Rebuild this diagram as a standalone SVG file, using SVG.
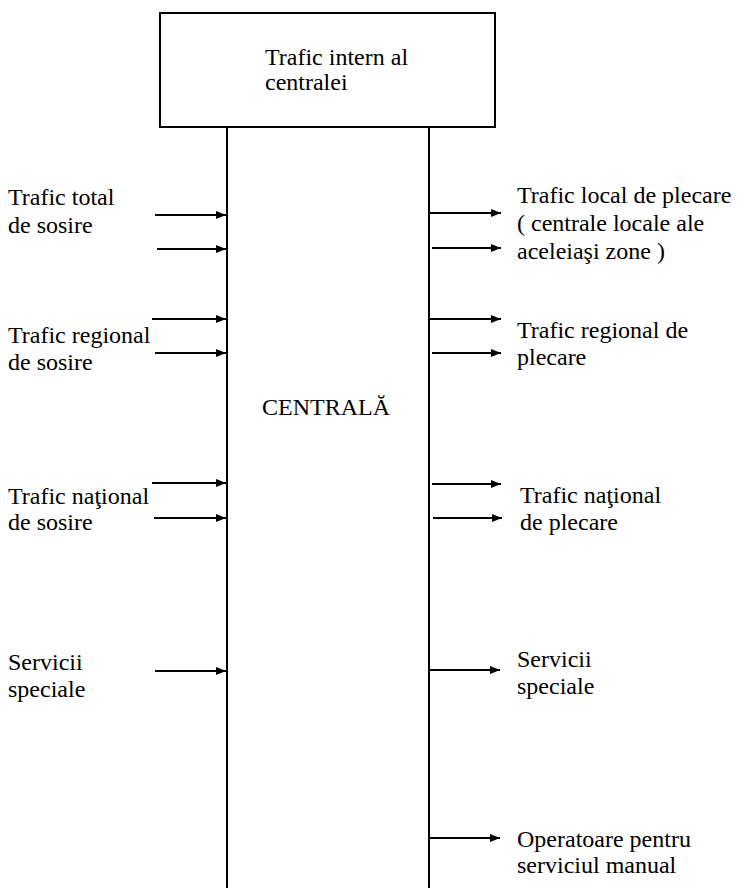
<svg xmlns="http://www.w3.org/2000/svg" width="740" height="888" viewBox="0 0 740 888">
<defs>
<marker id="ah" viewBox="0 0 10 10" refX="10" refY="5" markerWidth="10" markerHeight="10" markerUnits="userSpaceOnUse" orient="auto">
<path d="M0,1 L10,5 L0,9 Z" fill="#000"/>
</marker>
<style>
.t{font-family:'Liberation Serif','DejaVu Serif',serif;font-size:24px;fill:#000}
.box{fill:#fff;stroke:#000;stroke-width:2}
.ln{fill:none;stroke:#000;stroke-width:2}
.arr{fill:none;stroke:#000;stroke-width:2;marker-end:url(#ah)}
</style>
</defs>
<rect width="740" height="888" fill="#fff"/>
<g id="central" class="t" font-family="Liberation Serif, serif">
<path class="ln" d="M227,127 V888 M429,127 V888"/>
<text x="262" y="415">CENTRALĂ</text>
</g>
<g id="intern" class="t" font-family="Liberation Serif, serif">
<rect class="box" x="160" y="13" width="335" height="114"/>
<text x="265" y="65">Trafic intern al</text>
<text x="265" y="90">centralei</text>
</g>
<g id="connectors">
<line class="arr" x1="155" y1="215" x2="226" y2="215"/>
<line class="arr" x1="157" y1="249" x2="226" y2="249"/>
<line class="arr" x1="152" y1="319" x2="226" y2="319"/>
<line class="arr" x1="155" y1="353" x2="226" y2="353"/>
<line class="arr" x1="152" y1="483" x2="226" y2="483"/>
<line class="arr" x1="154" y1="518" x2="226" y2="518"/>
<line class="arr" x1="155" y1="671" x2="226" y2="671"/>
<line class="arr" x1="430" y1="213" x2="501" y2="213"/>
<line class="arr" x1="432" y1="248" x2="501" y2="248"/>
<line class="arr" x1="430" y1="319" x2="501" y2="319"/>
<line class="arr" x1="432" y1="353" x2="501" y2="353"/>
<line class="arr" x1="432" y1="484" x2="501" y2="484"/>
<line class="arr" x1="433" y1="518" x2="502" y2="518"/>
<line class="arr" x1="430" y1="670" x2="500" y2="670"/>
<line class="arr" x1="430" y1="838" x2="500" y2="838"/>
</g>
<g id="in-total" class="t" font-family="Liberation Serif, serif">
<text x="8" y="205">Trafic total</text>
<text x="8" y="233">de sosire</text>
</g>
<g id="in-regional" class="t" font-family="Liberation Serif, serif">
<text x="8" y="343">Trafic regional</text>
<text x="8" y="370">de sosire</text>
</g>
<g id="in-national" class="t" font-family="Liberation Serif, serif">
<text x="8" y="504">Trafic naţional</text>
<text x="8" y="530">de sosire</text>
</g>
<g id="in-servicii" class="t" font-family="Liberation Serif, serif">
<text x="8" y="670">Servicii</text>
<text x="8" y="697">speciale</text>
</g>
<g id="out-local" class="t" font-family="Liberation Serif, serif">
<text x="517" y="203">Trafic local de plecare</text>
<text x="517" y="231">( centrale locale ale</text>
<text x="517" y="259">aceleiaşi zone )</text>
</g>
<g id="out-regional" class="t" font-family="Liberation Serif, serif">
<text x="517" y="338">Trafic regional de</text>
<text x="517" y="365">plecare</text>
</g>
<g id="out-national" class="t" font-family="Liberation Serif, serif">
<text x="520" y="503">Trafic naţional</text>
<text x="520" y="530">de plecare</text>
</g>
<g id="out-servicii" class="t" font-family="Liberation Serif, serif">
<text x="517" y="667">Servicii</text>
<text x="517" y="694">speciale</text>
</g>
<g id="out-operatoare" class="t" font-family="Liberation Serif, serif">
<text x="517" y="847">Operatoare pentru</text>
<text x="517" y="873">serviciul manual</text>
</g>
</svg>
